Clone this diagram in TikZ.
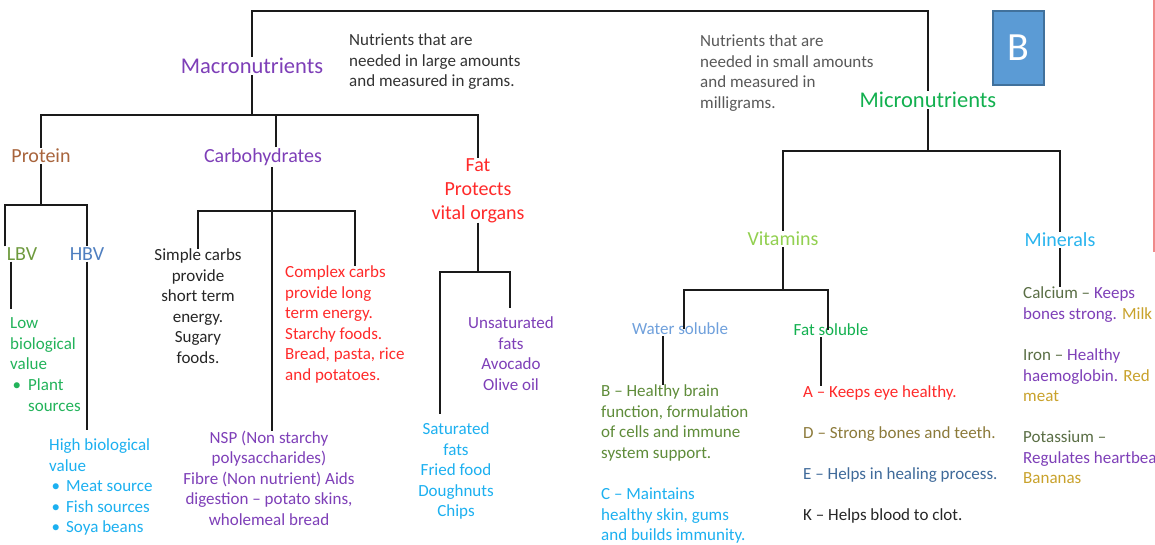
\documentclass[tikz,border=0pt]{standalone}
\usepackage{fontspec}
\setmainfont{Carlito}
\usetikzlibrary{calc}
\definecolor{cmacro}{HTML}{7E3FB8}
\definecolor{cprot}{HTML}{A8643C}
\definecolor{cred}{HTML}{FF2A2A}
\definecolor{cmicro}{HTML}{12B04F}
\definecolor{cvit}{HTML}{92D050}
\definecolor{cmin}{HTML}{29B4EE}
\definecolor{clbv}{HTML}{6E9A3E}
\definecolor{chbv}{HTML}{4F7FC0}
\definecolor{clow}{HTML}{22B35A}
\definecolor{ccyan}{HTML}{1CB0F0}
\definecolor{cwater}{HTML}{6FA0DC}
\definecolor{colive}{HTML}{5F8C3A}
\definecolor{cdvit}{HTML}{8C7A3A}
\definecolor{cevit}{HTML}{3F6A9A}
\definecolor{cmgray}{HTML}{5A6E45}
\definecolor{cgold}{HTML}{C9A22C}
\definecolor{cbox}{HTML}{5B9BD5}
\definecolor{cboxedge}{HTML}{41719C}
\definecolor{cnote}{HTML}{333333}
\definecolor{cnotetwo}{HTML}{595959}
\definecolor{cline}{HTML}{1A1A1A}
\definecolor{cpink}{HTML}{F08A8A}
\tikzset{
  big/.style={inner sep=1pt,font=\fontsize{22.5}{27}\selectfont},
  mid/.style={inner sep=1pt,font=\fontsize{20}{24}\selectfont},
  body/.style={inner sep=0pt,font=\fontsize{17}{20.6}\selectfont},
  conn/.style={draw=cline,line width=2.5pt},
}
\newcommand{\blt}[1]{\makebox[#1][l]{\hspace{2.5pt}\textbullet}}
\begin{document}
\begin{tikzpicture}[x=1pt,y=-1pt]
\clip (0,0) rectangle (1155,544);
\fill[white] (0,0) rectangle (1155,544);
\draw[cpink,line width=1.5pt] (1154,0) -- (1154,252);

% helper coordinates
\coordinate (ytop) at (0,11);
\coordinate (ymacro) at (0,115);
\coordinate (ymicro) at (0,151);
\coordinate (yprot) at (0,205);
\coordinate (ycarb) at (0,211);
\coordinate (yfat) at (0,272);
\coordinate (yvit) at (0,290);
\coordinate (xcarb) at (276,0);
\coordinate (xcarbd) at (272,0);
\coordinate (xcomp) at (355,0);
\coordinate (xlbv) at (5,0);
\coordinate (xlbvd) at (11,0);
\coordinate (xsat) at (440,0);
\coordinate (xunsat) at (510,0);
\coordinate (xwater) at (684,0);
\coordinate (xwaterd) at (663,0);
\coordinate (xfats) at (828,0);
\coordinate (xfatsd) at (821,0);

% top level
\node[big,text=cmacro] (macro) at (252,66) {Macronutrients};
\node[big,text=cmicro] (micro) at (928,100) {Micronutrients};
\node[body,text=cnote,align=left,anchor=north west] (notel) at (349,33.5)
  {Nutrients that are\\needed in large amounts\\and measured in grams.};
\node[body,text=cnotetwo,align=left,anchor=north west] (noter) at (700,34.5)
  {Nutrients that are\\needed in small amounts\\and measured in\\milligrams.};
\node[draw=cboxedge,fill=cbox,line width=1.5pt,minimum width=51pt,minimum height=74pt,
      text=white,font=\fontsize{40}{40}\selectfont,inner sep=0pt] (bbox) at (1018.5,48) {B};

% macro children
\node[mid,text=cprot] (protein) at (41,156) {Protein};
\node[mid,text=cmacro] (carbs) at (263,157) {Carbohydrates};
\node[mid,text=cred,align=center,anchor=north,inner sep=0pt] (fat) at (478,158) {Fat\\Protects\\vital organs};

% protein
\node[mid,text=clbv] (lbv) at (22,254) {LBV};
\node[mid,text=chbv] (hbv) at (87,254) {HBV};
\node[body,text=clow,align=left,anchor=north west] (lowbv) at (10,317.5)
  {Low\\biological\\value\\\blt{18pt}Plant\\\hspace*{18pt}sources};
\node[body,text=ccyan,align=left,anchor=north west] (highbv) at (49,438.5)
  {High biological\\value\\\blt{17pt}Meat source\\\blt{17pt}Fish sources\\\blt{17pt}Soya beans};

% carbs
\node[body,text=black!85,align=center,anchor=north] (simple) at (198,248.5)
  {Simple carbs\\provide\\short term\\energy.\\Sugary\\foods.};
\node[body,text=cred,align=left,anchor=north west] (complex) at (285,265.5)
  {Complex carbs\\provide long\\term energy.\\Starchy foods.\\Bread, pasta, rice\\and potatoes.};
\node[body,text=cmacro,align=center,anchor=north] (nsp) at (269,430.5)
  {NSP (Non starchy\\polysaccharides)\\Fibre (Non nutrient) Aids\\digestion -- potato skins,\\wholemeal bread};

% fat
\node[body,text=cmacro,align=center,anchor=north] (unsat) at (511,316.5)
  {Unsaturated\\fats\\Avocado\\Olive oil};
\node[body,text=ccyan,align=center,anchor=north] (sat) at (456,422.5)
  {Saturated\\fats\\Fried food\\Doughnuts\\Chips};

% micro children
\node[mid,text=cvit] (vitamins) at (783,239) {Vitamins};
\node[mid,text=cmin] (minerals) at (1060,240) {Minerals};
\node[body,inner sep=1pt,text=cwater] (water) at (680,329) {Water soluble};
\node[body,inner sep=1pt,text=cmicro] (fatsol) at (831,330) {Fat soluble};
\node[body,text=colive,align=left,anchor=north west] (bvit) at (601,384.5)
  {B -- Healthy brain\\function, formulation\\of cells and immune\\system support.};
\node[body,text=ccyan,align=left,anchor=north west] (cvit) at (601,487.5)
  {C -- Maintains\\healthy skin, gums\\and builds immunity.};
\node[body,text=cred,anchor=west] (avit) at (803,393) {A -- Keeps eye healthy.};
\node[body,text=cdvit,anchor=west] (dvit) at (803,434) {D -- Strong bones and teeth.};
\node[body,text=cevit,anchor=west] (evit) at (803,475) {E -- Helps in healing process.};
\node[body,text=black!85,anchor=west] (kvit) at (803,516) {K -- Helps blood to clot.};

\node[body,align=left,anchor=north west] (calcium) at (1023,286.5)
  {\textcolor{cmgray}{Calcium --} \textcolor{cmacro}{Keeps}\\\textcolor{cmacro}{bones strong.} \textcolor{cgold}{Milk}};
\node[body,align=left,anchor=north west] (iron) at (1023,348.5)
  {\textcolor{cmgray}{Iron --} \textcolor{cmacro}{Healthy}\\\textcolor{cmacro}{haemoglobin.} \textcolor{cgold}{Red}\\\textcolor{cgold}{meat}};
\node[body,align=left,anchor=north west] (potassium) at (1023,430.5)
  {\textcolor{cmgray}{Potassium --}\\\textcolor{cmacro}{Regulates heartbeat}\\\textcolor{cgold}{Bananas}};

% connectors
\draw[conn] (macro.north) -- (macro.north |- ytop) -| (micro.north);
\draw[conn] (macro.south) -- (macro.south |- ymacro);
\draw[conn] (protein.north) -- (protein.north |- ymacro) -| (fat.north);
\draw[conn] (carbs.north -| xcarb) -- (xcarb |- ymacro);

\draw[conn] (protein.south) -- (protein.south |- yprot);
\draw[conn] (lbv.north -| xlbv) -- (xlbv |- yprot) -| (hbv.north);
\draw[conn,shorten >=9pt] (lbv.south -| xlbvd) -- (xlbvd |- lowbv.north);
\draw[conn,shorten >=9pt] (hbv.south) -- (hbv.south |- highbv.north);

\draw[conn] (carbs.south -| xcarbd) -- (xcarbd |- nsp.north);
\draw[conn] (simple.north) -- (simple.north |- ycarb) -| (xcomp |- complex.north);

\draw[conn] (fat.south) -- (fat.south |- yfat);
\draw[conn,shorten <=9pt,shorten >=9pt] (sat.north -| xsat) -- (xsat |- yfat) -| (unsat.north -| xunsat);

\draw[conn] (micro.south) -- (micro.south |- ymicro);
\draw[conn] (vitamins.north) -- (vitamins.north |- ymicro) -| (minerals.north);
\draw[conn] (minerals.south) -- (minerals.south |- calcium.north);
\draw[conn] (vitamins.south) -- (vitamins.south |- yvit);
\draw[conn] (xwater |- water.center) -- (xwater |- yvit) -| (xfats |- fatsol.center);
\draw[conn] (water.south -| xwaterd) -- (xwaterd |- bvit.north);
\draw[conn] (fatsol.south -| xfatsd) -- (xfatsd |- avit.north);
\end{tikzpicture}
\end{document}
